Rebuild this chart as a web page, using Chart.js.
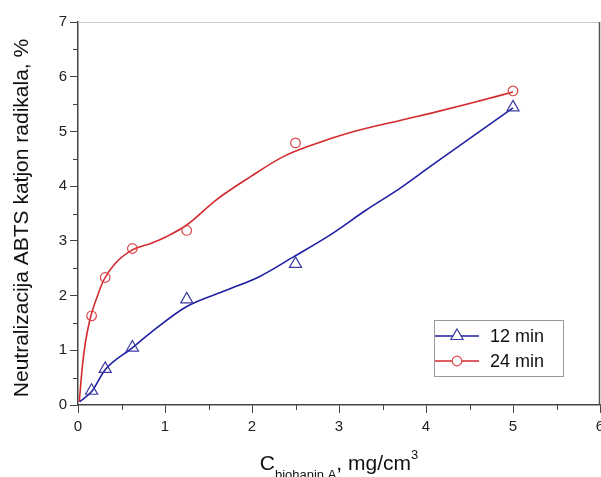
<!DOCTYPE html>
<html>
<head>
<meta charset="utf-8">
<script src="https://cdn.jsdelivr.net/npm/chart.js"></script>
<style>
  html, body { margin: 0; padding: 0; background: #fff; overflow: hidden; }
  #wrap { width: 610px; height: 477px; }
</style>
</head>
<body>
<div id="wrap"><canvas id="abts" width="610" height="477"></canvas></div>
<script>
// biohanin A concentration, mg/cm3
const conc = [0.15625, 0.3125, 0.625, 1.25, 2.5, 5];
// measured neutralization, %
const neut12 = [0.26, 0.66, 1.05, 1.93, 2.58, 5.44];
const neut24 = [1.63, 2.33, 2.86, 3.19, 4.79, 5.74];

// smoothed fit curves
const fit12X = [0.02, 0.16, 0.31, 0.62, 0.85, 1.25, 1.71, 2.09, 2.49, 2.9, 3.3, 3.7, 4.05, 4.5, 5.0];
const fit12Y = [0.06, 0.25, 0.64, 1.04, 1.34, 1.80, 2.10, 2.35, 2.72, 3.11, 3.55, 3.96, 4.36, 4.87, 5.43];
const fit24X = [0.015, 0.046, 0.084, 0.14, 0.22, 0.295, 0.43, 0.62, 0.85, 1.02, 1.25, 1.59, 1.98, 2.36, 2.74, 3.13, 3.7, 4.05, 4.5, 5.0];
const fit24Y = [0.06, 0.64, 1.13, 1.58, 1.98, 2.28, 2.59, 2.83, 2.96, 3.08, 3.29, 3.75, 4.17, 4.54, 4.78, 4.98, 5.2, 5.33, 5.51, 5.72];

const xTicks = [0, 1, 2, 3, 4, 5, 6];
const yTicks = [0, 1, 2, 3, 4, 5, 6, 7];
const seriesNames = ['12 min', '24 min'];

const FONT = "'Liberation Sans', Arial, sans-serif";
const BLUE = '#1f1fa6', BLUE_MK = '#3b3ba3';
const RED = '#d42a2e', RED_MK = '#d9474a';

const pts = (xs, ys) => xs.map((v, i) => ({x: v, y: ys[i]}));

// minor ticks, top/right frame, axis titles and the boxed legend
const extras = {
    id: 'extras',
    afterDraw(chart) {
        const {ctx, chartArea: a, scales: {x, y}} = chart;
        ctx.save();
        ctx.strokeStyle = '#444';
        ctx.lineWidth = 1;
        ctx.beginPath();
        for (let v = 0.5; v < xTicks[xTicks.length - 1]; v += 1) {
            const px = Math.round(x.getPixelForValue(v)) + 0.5;
            ctx.moveTo(px, a.bottom);
            ctx.lineTo(px, a.bottom + 5);
        }
        for (let v = 0.5; v < yTicks[yTicks.length - 1]; v += 1) {
            const py = Math.round(y.getPixelForValue(v)) + 0.5;
            ctx.moveTo(a.left, py);
            ctx.lineTo(a.left - 5, py);
        }
        ctx.stroke();

        ctx.strokeStyle = '#c8c8c8';
        ctx.beginPath();
        ctx.moveTo(a.left, a.top + 0.5);
        ctx.lineTo(a.right, a.top + 0.5);
        ctx.stroke();
        ctx.strokeStyle = '#555';
        ctx.lineWidth = 1.5;
        ctx.beginPath();
        ctx.moveTo(a.right - 0.5, a.top);
        ctx.lineTo(a.right - 0.5, a.bottom);
        ctx.stroke();

        // y title
        ctx.fillStyle = '#111';
        ctx.font = '21px ' + FONT;
        ctx.save();
        ctx.translate(22, 218);
        ctx.rotate(-Math.PI / 2);
        ctx.textAlign = 'center';
        ctx.textBaseline = 'middle';
        ctx.fillText('Neutralizacija ABTS katjon radikala, %', 0, 0);
        ctx.restore();

        // x title with subscript and superscript
        const parts = [
            {t: 'C', f: 21, dy: 0},
            {t: 'biohanin A', f: 13, dy: 9},
            {t: ', mg/cm', f: 21, dy: 0},
            {t: '3', f: 13, dy: -11}
        ];
        let total = 0;
        parts.forEach(p => { ctx.font = p.f + 'px ' + FONT; p.w = ctx.measureText(p.t).width; total += p.w; });
        let cx = (a.left + a.right) / 2 - total / 2;
        ctx.textAlign = 'left';
        ctx.textBaseline = 'alphabetic';
        parts.forEach(p => {
            ctx.font = p.f + 'px ' + FONT;
            ctx.fillText(p.t, cx, 470 + p.dy);
            cx += p.w;
        });

        // legend box
        const lx = a.right - 166, ly = a.bottom - 85;
        ctx.strokeStyle = '#999';
        ctx.lineWidth = 1;
        ctx.strokeRect(lx + 0.5, ly + 0.5, 129, 56);
        const rows = [
            {name: seriesNames[0], line: BLUE, mk: BLUE_MK, shape: 'triangle'},
            {name: seriesNames[1], line: RED, mk: RED_MK, shape: 'circle'}
        ];
        rows.forEach((r, i) => {
            const yy = ly + 16 + i * 25;
            ctx.strokeStyle = r.line;
            ctx.lineWidth = 1.3;
            ctx.beginPath();
            ctx.moveTo(lx + 1, yy);
            ctx.lineTo(lx + 45, yy);
            ctx.stroke();
            const mx = lx + 23;
            ctx.fillStyle = '#fff';
            ctx.strokeStyle = r.mk;
            ctx.lineWidth = 1.2;
            ctx.beginPath();
            if (r.shape === 'circle') {
                ctx.arc(mx, yy, 4.8, 0, Math.PI * 2);
            } else {
                ctx.moveTo(mx, yy - 7);
                ctx.lineTo(mx + 6.1, yy + 3.5);
                ctx.lineTo(mx - 6.1, yy + 3.5);
                ctx.closePath();
            }
            ctx.fill();
            ctx.stroke();
            ctx.fillStyle = '#111';
            ctx.font = '18px ' + FONT;
            ctx.textBaseline = 'middle';
            ctx.fillText(r.name, lx + 56, yy + 1);
        });
        ctx.restore();
    }
};

new Chart(document.getElementById('abts'), {
    type: 'scatter',
    data: {
        datasets: [
            {
                label: seriesNames[0],
                data: pts(conc, neut12),
                pointStyle: 'triangle',
                pointRadius: 7,
                pointBorderWidth: 1.2,
                borderColor: BLUE_MK,
                backgroundColor: 'rgba(255,255,255,0)',
                showLine: false,
                order: 0
            },
            {
                label: seriesNames[1],
                data: pts(conc, neut24),
                pointStyle: 'circle',
                pointRadius: 4.8,
                pointBorderWidth: 1.2,
                borderColor: RED_MK,
                backgroundColor: 'rgba(255,255,255,0)',
                showLine: false,
                order: 0
            },
            {
                label: 'fit 12',
                data: pts(fit12X, fit12Y),
                showLine: true,
                pointRadius: 0,
                borderColor: BLUE,
                borderWidth: 1.6,
                cubicInterpolationMode: 'monotone',
                order: 1
            },
            {
                label: 'fit 24',
                data: pts(fit24X, fit24Y),
                showLine: true,
                pointRadius: 0,
                borderColor: RED,
                borderWidth: 1.6,
                cubicInterpolationMode: 'monotone',
                order: 1
            }
        ]
    },
    options: {
        responsive: false,
        animation: false,
        devicePixelRatio: 1,
        layout: { padding: { left: 0, right: 10, top: 22, bottom: 0 } },
        plugins: {
            legend: { display: false },
            tooltip: { enabled: false }
        },
        scales: {
            x: {
                type: 'linear',
                min: xTicks[0],
                max: xTicks[xTicks.length - 1],
                afterBuildTicks: s => { s.ticks = xTicks.map(v => ({value: v})); },
                afterFit: s => { s.height = 72; },
                grid: { drawOnChartArea: false, tickLength: 8, tickColor: '#444', tickWidth: 1 },
                border: { color: '#444', width: 1.5 },
                ticks: { color: '#222', padding: 5, font: { family: FONT, size: 15 }, maxRotation: 0 }
            },
            y: {
                type: 'linear',
                min: yTicks[0],
                max: yTicks[yTicks.length - 1],
                afterBuildTicks: s => { s.ticks = yTicks.map(v => ({value: v})); },
                afterFit: s => { s.width = 78; },
                grid: { drawOnChartArea: false, tickLength: 8, tickColor: '#444', tickWidth: 1 },
                border: { color: '#444', width: 1.5 },
                ticks: { color: '#222', padding: 3, font: { family: FONT, size: 15 } }
            }
        }
    },
    plugins: [extras]
});
</script>
</body>
</html>
